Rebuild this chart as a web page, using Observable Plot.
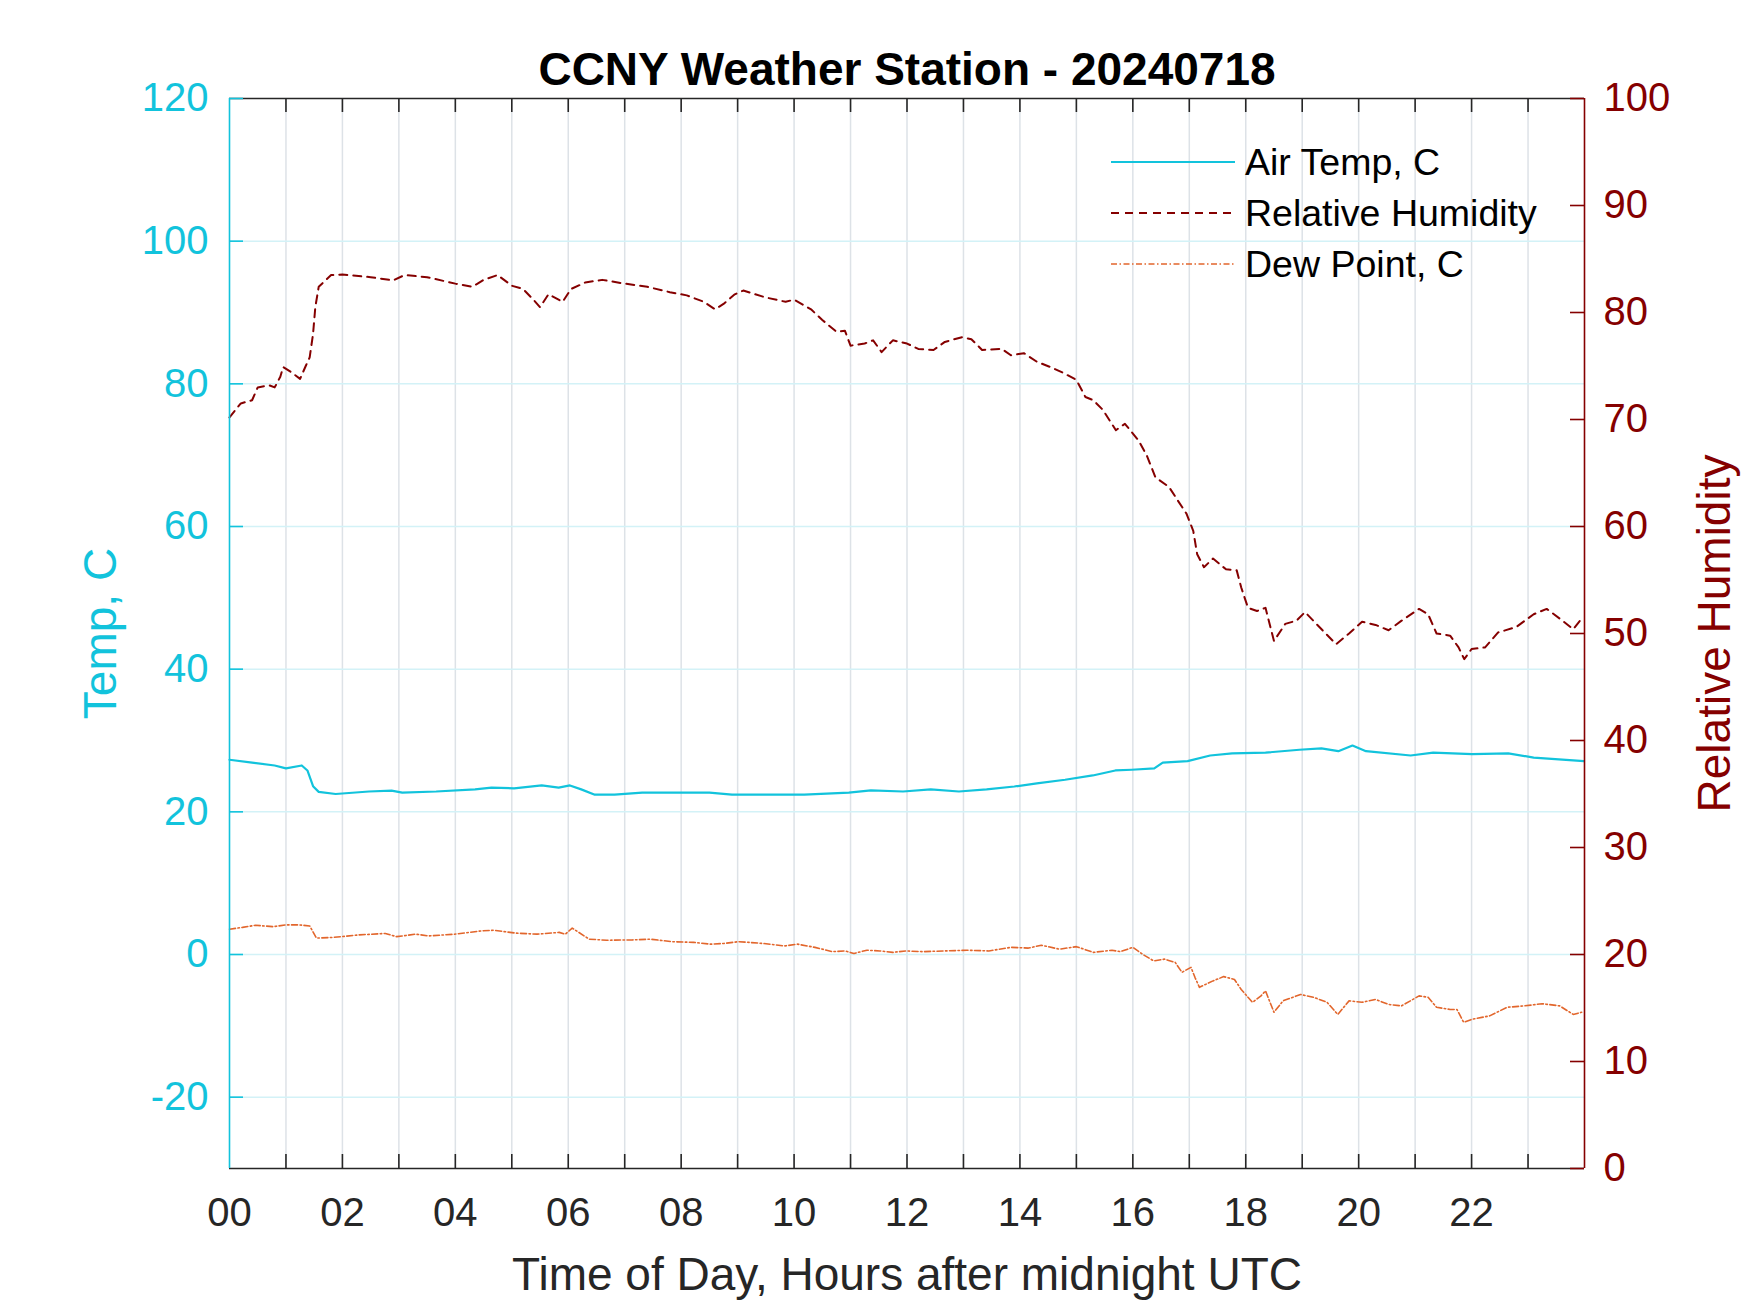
<!DOCTYPE html>
<html>
<head>
<meta charset="utf-8">
<script src="https://cdn.jsdelivr.net/npm/d3@7"></script>
<script src="https://cdn.jsdelivr.net/npm/@observablehq/plot@0.6"></script>
<style>
html, body { margin: 0; padding: 0; background: #fff; overflow: hidden; }
#wrap { position: relative; width: 1750px; height: 1313px; }
#wrap > svg { position: absolute; left: 0; top: 0; }
</style>
</head>
<body>
<div id="wrap"></div>
<script>
// ---------------- data ----------------
const airHours = [0, 0.4, 0.8, 1.0, 1.28, 1.38, 1.48, 1.58, 1.88, 2.47, 2.87, 3.06, 3.66, 4.35, 4.64, 5.04, 5.53, 5.83, 6.03, 6.23, 6.47, 6.82, 7.31, 7.8, 8.5, 8.9, 9.78, 10.18, 10.97, 11.36, 11.93, 12.42, 12.92, 13.41, 13.9, 14.3, 14.8, 15.29, 15.69, 15.98, 16.38, 16.53, 16.97, 17.37, 17.76, 18.35, 18.95, 19.34, 19.64, 19.89, 20.13, 20.92, 21.32, 22.01, 22.65, 23.1, 23.99];
const airTemp  = [27.3, 26.9, 26.5, 26.1, 26.5, 25.8, 23.6, 22.8, 22.5, 22.85, 22.97, 22.7, 22.85, 23.15, 23.4, 23.3, 23.7, 23.4, 23.7, 23.15, 22.4, 22.4, 22.7, 22.7, 22.7, 22.4, 22.4, 22.4, 22.7, 23.0, 22.85, 23.15, 22.85, 23.15, 23.55, 24.0, 24.5, 25.1, 25.8, 25.9, 26.1, 26.9, 27.1, 27.9, 28.2, 28.3, 28.7, 28.9, 28.5, 29.3, 28.5, 27.9, 28.3, 28.1, 28.2, 27.6, 27.1];

const rhHours = [0, 0.2, 0.4, 0.5, 0.7, 0.8, 0.9, 0.95, 1.1, 1.25, 1.35, 1.42, 1.48, 1.52, 1.58, 1.7, 1.8, 2.0, 2.5, 2.9, 3.1, 3.5, 4.0, 4.3, 4.5, 4.75, 5.0, 5.2, 5.4, 5.5, 5.65, 5.9, 6.05, 6.3, 6.6, 7.0, 7.4, 7.8, 8.1, 8.4, 8.6, 8.75, 8.95, 9.1, 9.5, 9.85, 10.0, 10.3, 10.5, 10.75, 10.9, 11.0, 11.25, 11.4, 11.55, 11.75, 12.0, 12.2, 12.47, 12.67, 12.98, 13.14, 13.33, 13.68, 13.84, 14.07, 14.3, 14.54, 14.77, 15.0, 15.16, 15.3, 15.47, 15.7, 15.86, 16.1, 16.25, 16.4, 16.64, 16.8, 16.95, 17.07, 17.14, 17.26, 17.42, 17.65, 17.84, 17.92, 18.04, 18.2, 18.35, 18.5, 18.7, 18.9, 19.05, 19.36, 19.6, 19.83, 20.06, 20.3, 20.53, 20.76, 21.07, 21.23, 21.38, 21.62, 21.77, 21.87, 22.0, 22.24, 22.47, 22.79, 23.1, 23.33, 23.56, 23.8, 23.92];
const rhValues = [70.2, 71.5, 71.8, 73.0, 73.2, 73.0, 74.0, 74.9, 74.4, 73.8, 75.0, 75.8, 78.0, 80.5, 82.4, 83.0, 83.5, 83.55, 83.3, 83.0, 83.5, 83.3, 82.7, 82.4, 83.05, 83.5, 82.5, 82.2, 81.1, 80.5, 81.7, 81.0, 82.2, 82.8, 83.05, 82.7, 82.4, 81.9, 81.6, 81.0, 80.3, 80.8, 81.7, 82.05, 81.4, 81.0, 81.2, 80.3, 79.3, 78.2, 78.3, 76.9, 77.1, 77.4, 76.3, 77.4, 77.1, 76.6, 76.5, 77.25, 77.7, 77.5, 76.5, 76.6, 76.0, 76.2, 75.4, 74.9, 74.35, 73.7, 72.1, 71.8, 70.9, 69.0, 69.6, 68.05, 66.6, 64.6, 63.7, 62.4, 61.2, 59.6, 57.4, 56.2, 57.0, 56.0, 55.9, 54.3, 52.4, 52.1, 52.4, 49.3, 50.9, 51.2, 52.0, 50.3, 49.0, 50.0, 51.1, 50.8, 50.3, 51.2, 52.3, 51.8, 50.0, 49.8, 48.7, 47.6, 48.55, 48.7, 50.1, 50.6, 51.8, 52.3, 51.4, 50.4, 51.2];

const dewHours = [0, 0.23, 0.46, 0.77, 1.0, 1.23, 1.42, 1.54, 1.84, 2.3, 2.76, 2.96, 3.3, 3.53, 3.99, 4.45, 4.68, 5.07, 5.45, 5.84, 5.95, 6.07, 6.37, 6.68, 7.14, 7.45, 7.83, 8.22, 8.52, 8.76, 9.02, 9.45, 9.83, 10.06, 10.37, 10.68, 10.9, 11.06, 11.29, 11.52, 11.75, 11.98, 12.28, 12.67, 13.06, 13.45, 13.84, 14.15, 14.38, 14.7, 15.0, 15.3, 15.63, 15.78, 16.0, 16.17, 16.37, 16.56, 16.75, 16.87, 17.03, 17.1, 17.18, 17.42, 17.61, 17.8, 17.92, 18.04, 18.12, 18.27, 18.35, 18.5, 18.66, 18.97, 19.2, 19.44, 19.63, 19.83, 20.06, 20.3, 20.53, 20.76, 21.07, 21.23, 21.38, 21.62, 21.74, 21.86, 22.0, 22.32, 22.63, 22.94, 23.25, 23.56, 23.8, 23.95];
const dewValues = [3.55, 3.8, 4.1, 3.9, 4.15, 4.15, 4.0, 2.3, 2.4, 2.75, 2.95, 2.5, 2.85, 2.6, 2.85, 3.3, 3.4, 3.0, 2.85, 3.1, 2.85, 3.7, 2.15, 2.0, 2.05, 2.15, 1.8, 1.7, 1.45, 1.55, 1.8, 1.55, 1.2, 1.45, 1.0, 0.4, 0.5, 0.15, 0.6, 0.5, 0.3, 0.5, 0.4, 0.5, 0.6, 0.5, 1.0, 0.9, 1.3, 0.75, 1.1, 0.3, 0.6, 0.4, 1.0, 0.05, -0.9, -0.65, -1.1, -2.5, -1.8, -3.2, -4.6, -3.7, -3.1, -3.5, -4.9, -6.0, -6.7, -5.8, -5.1, -8.1, -6.5, -5.6, -6.0, -6.7, -8.4, -6.5, -6.7, -6.3, -7.0, -7.2, -5.8, -6.0, -7.4, -7.7, -7.7, -9.5, -9.1, -8.6, -7.4, -7.2, -6.9, -7.2, -8.4, -8.1];

const hourDomain = [0, 24];
const tempDomain = [-30, 120];
const rhDomain = [0, 100];
const hourTicks = d3.range(0, 24);          // every hour
const hourLabels = d3.range(0, 24, 2);      // labelled hours
const tempTicks = d3.range(-20, 121, 20);
const rhTicks = d3.range(0, 101, 10);
const legendLabels = ["Air Temp, C", "Relative Humidity", "Dew Point, C"];
const titleText = "CCNY Weather Station - 20240718";
const xLabel = "Time of Day, Hours after midnight UTC";
const yLabel = "Temp, C";
const y2Label = "Relative Humidity";

// ---------------- layout & style ----------------
const W = 1750, H = 1313, ML = 229, MR = 166, MT = 98, MB = 145;
const FW = W - ML - MR, FH = H - MT - MB;
const CYAN = "#12c3dc", RED = "#850000", ORANGE = "#e2662c", AXIS = "#262626";
const FONT = "'Liberation Sans', Arial, Helvetica, sans-serif";
const TICK = 14;
const TICKFONT = 40;

// RH is drawn on the temperature-scaled y axis through a linear map of the two domains
const rhToT = d3.scaleLinear(rhDomain, tempDomain);

const air = airHours.map((h, i) => ({h, v: airTemp[i]}));
const rh = rhHours.map((h, i) => ({h, v: rhValues[i]}));
const dew = dewHours.map((h, i) => ({h, v: dewValues[i]}));

const chart = Plot.plot({
  width: W, height: H,
  marginLeft: ML, marginRight: MR, marginTop: MT, marginBottom: MB,
  style: {fontFamily: FONT, background: "white", overflow: "visible"},
  x: {domain: hourDomain, axis: null},
  y: {domain: tempDomain, axis: null},
  marks: [
    // grid
    Plot.ruleX(hourTicks.slice(1), {x: d => d, stroke: "#dde2e7", strokeWidth: 1.5}),
    Plot.ruleY(tempTicks.filter(t => t < tempDomain[1]), {y: d => d, stroke: "#d3f2f7", strokeWidth: 1.5}),
    // series
    Plot.line(dew, {x: "h", y: "v", stroke: ORANGE, strokeWidth: 1.6, strokeDasharray: "6,2.5,1.5,2.5"}),
    Plot.line(rh, {x: "h", y: d => rhToT(d.v), stroke: RED, strokeWidth: 2, strokeDasharray: "8,6"}),
    Plot.line(air, {x: "h", y: "v", stroke: CYAN, strokeWidth: 2.2}),
    // box
    Plot.ruleY([tempDomain[1]], {y: d => d, stroke: AXIS, strokeWidth: 1.6}),
    Plot.ruleY([tempDomain[0]], {y: d => d, stroke: AXIS, strokeWidth: 1.6}),
    Plot.ruleX([hourDomain[0]], {x: d => d, stroke: CYAN, strokeWidth: 1.6}),
    Plot.ruleX([hourDomain[1]], {x: d => d, stroke: RED, strokeWidth: 1.6}),
    // inward ticks
    Plot.tickX(hourTicks.slice(1), {x: d => d, stroke: AXIS, strokeWidth: 1.6, insetTop: FH - TICK}),
    Plot.tickX(hourTicks.slice(1), {x: d => d, stroke: AXIS, strokeWidth: 1.6, insetBottom: FH - TICK}),
    Plot.tickY(tempTicks, {y: d => d, stroke: CYAN, strokeWidth: 1.6, insetRight: FW - TICK}),
    Plot.tickY(rhTicks, {y: d => rhToT(d), stroke: RED, strokeWidth: 1.6, insetLeft: FW - TICK}),
    // axes labels
    Plot.axisX({anchor: "bottom", ticks: hourLabels, tickFormat: d3.format("02d"), tickSize: 0, tickPadding: 29, fontSize: TICKFONT, fill: AXIS, label: null}),
    Plot.axisY({anchor: "left", ticks: tempTicks, tickFormat: d => String(d), tickSize: 0, tickPadding: 21, fontSize: TICKFONT, fill: CYAN, label: null}),
    Plot.axisY({anchor: "right", ticks: rhTicks.map(r => rhToT(r)), tickFormat: t => String(Math.round(rhToT.invert(t))), tickSize: 0, tickPadding: 19, fontSize: TICKFONT, fill: RED, label: null}),
    // titles
    Plot.text([titleText], {text: d => d, frameAnchor: "top", dy: -14, lineAnchor: "bottom", textAnchor: "middle", fontSize: 46, fontWeight: "bold", fill: "#000"}),
    Plot.text([xLabel], {text: d => d, frameAnchor: "bottom", dy: 121, lineAnchor: "bottom", textAnchor: "middle", fontSize: 46, fill: AXIS}),
    Plot.text([yLabel], {text: d => d, frameAnchor: "left", dx: -146, rotate: -90, lineAnchor: "top", textAnchor: "middle", fontSize: 46, fill: CYAN}),
    Plot.text([y2Label], {text: d => d, frameAnchor: "right", dx: 113, rotate: -90, lineAnchor: "top", textAnchor: "middle", fontSize: 46, fill: RED})
  ]
});
document.getElementById("wrap").appendChild(chart);

// ---------------- legend overlay ----------------
const legendStyles = [
  {stroke: CYAN, width: 2.2, dash: null},
  {stroke: RED, width: 2, dash: "8,6"},
  {stroke: ORANGE, width: 1.6, dash: "6,2.5,1.5,2.5"}
];
const lg = d3.select("#wrap").append("svg")
  .attr("width", W).attr("height", H)
  .style("pointer-events", "none")
  .style("font-family", FONT);
const rowY = [162, 213, 264];
legendLabels.forEach((lab, i) => {
  const s = legendStyles[i];
  lg.append("line").attr("x1", 1111).attr("x2", 1235).attr("y1", rowY[i]).attr("y2", rowY[i])
    .attr("stroke", s.stroke).attr("stroke-width", s.width).attr("stroke-dasharray", s.dash);
  lg.append("text").attr("x", 1245).attr("y", rowY[i]).attr("dy", "0.35em")
    .attr("font-size", 37.5).attr("fill", "#000").text(lab);
});
</script>
</body>
</html>
